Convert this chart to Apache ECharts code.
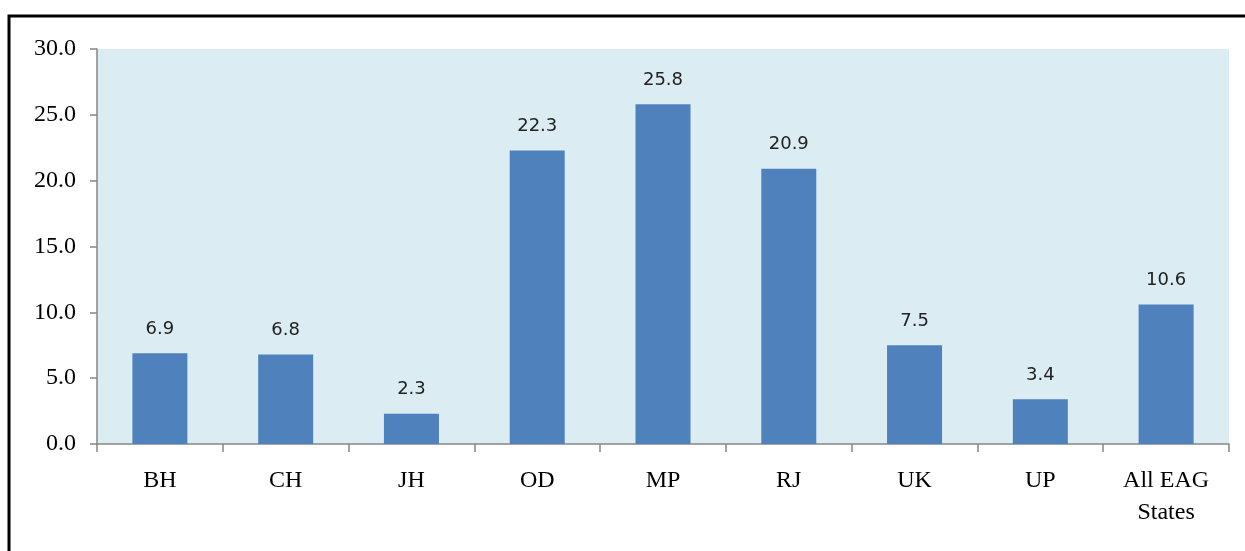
<!DOCTYPE html>
<html>
<head>
<meta charset="utf-8">
<script src="https://cdn.jsdelivr.net/npm/echarts@6/dist/echarts.min.js"></script>
<style>
  html, body { margin: 0; padding: 0; background: #ffffff; }
  #chart { width: 1245px; height: 551px; }
</style>
</head>
<body>
<div id="chart"></div>
<script>
// States and their values
const categories = ['BH', 'CH', 'JH', 'OD', 'MP', 'RJ', 'UK', 'UP', 'All EAG\nStates'];
const values = [6.9, 6.8, 2.3, 22.3, 25.8, 20.9, 7.5, 3.4, 10.6];
const yMin = 0;
const yMax = 30;
const yStep = 5;

const serif = '"Liberation Serif", "DejaVu Serif", serif';
const axisGray = '#868686';

const chart = echarts.init(document.getElementById('chart'), null, { renderer: 'canvas' });

chart.setOption({
  animation: false,
  backgroundColor: '#ffffff',
  grid: {
    left: 97,
    top: 49,
    right: 16,
    bottom: 107,
    show: true,
    backgroundColor: '#DBEDF3',
    borderWidth: 0
  },
  xAxis: {
    type: 'category',
    data: categories,
    axisLine: { show: true, lineStyle: { color: axisGray, width: 1.5 } },
    axisTick: { show: true, length: 8, alignWithLabel: false, lineStyle: { color: axisGray, width: 1.5 } },
    axisLabel: {
      color: '#000000',
      fontFamily: serif,
      fontSize: 24,
      lineHeight: 32,
      margin: 21,
      interval: 0
    }
  },
  yAxis: {
    type: 'value',
    min: yMin,
    max: yMax,
    interval: yStep,
    splitLine: { show: false },
    axisLine: { show: true, lineStyle: { color: axisGray, width: 1.5 } },
    axisTick: { show: true, length: 7, lineStyle: { color: axisGray, width: 1.5 } },
    axisLabel: {
      color: '#000000',
      fontFamily: serif,
      fontSize: 24,
      margin: 21,
      formatter: v => v.toFixed(1)
    }
  },
  series: [{
    type: 'bar',
    data: values,
    barWidth: 55,
    itemStyle: { color: '#4F81BD' },
    label: {
      show: true,
      position: 'top',
      distance: 15,
      color: '#222222',
      fontFamily: '"DejaVu Sans", sans-serif',
      fontSize: 18,
      formatter: p => p.value.toFixed(1)
    }
  }],
  graphic: [{
    type: 'rect',
    left: 6.5,
    top: 13.5,
    shape: { width: 1400, height: 700 },
    style: { fill: null, stroke: '#000000', lineWidth: 3 },
    silent: true,
    z: 100
  }]
});
</script>
</body>
</html>
